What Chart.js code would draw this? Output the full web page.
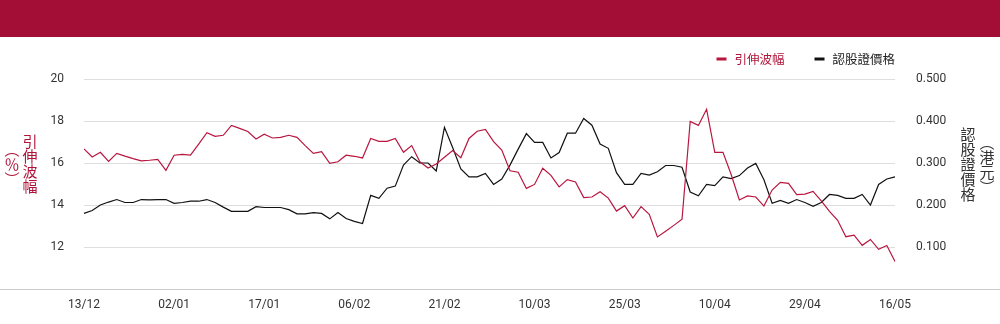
<!DOCTYPE html>
<html>
<head>
<meta charset="utf-8">
<script src="https://cdn.jsdelivr.net/npm/chart.js@4.4.1/dist/chart.umd.min.js"></script>
<style>
  html, body { margin: 0; padding: 0; background: #fff; }
  #wrap { position: relative; width: 1000px; height: 324px; overflow: hidden;
          font-family: 'Noto Sans CJK TC', 'Noto Sans', sans-serif; }
  #band { position: absolute; left: 0; top: 0; width: 1000px; height: 37px; background: #a30e36; }
  #chart { position: absolute; left: 0; top: 0; }
  .vt { position: absolute; writing-mode: vertical-rl; font-size: 15px; line-height: 1;
        white-space: nowrap; transform: translate(-50%, -50%); }
</style>
</head>
<body>
<div id="wrap">
  <div id="band"></div>
  <canvas id="chart" width="1000" height="324"></canvas>
  <div class="vt" style="left:30px;top:164px;color:#b0143a">引伸波幅</div>
  <div class="vt" style="left:12px;top:164px;color:#b0143a">（％）</div>
  <div class="vt" style="left:968px;top:164px;color:#333">認股證價格</div>
  <div class="vt" style="left:987px;top:165px;color:#333">（港元）</div>
</div>
<script>
// Date labels shown along the x axis, one every `tickEvery` observations
const tickLabels = ['13/12', '02/01', '17/01', '06/02', '21/02', '10/03', '25/03', '10/04', '29/04', '16/05'];
const tickEvery = 11;

// Implied volatility (%)
const volatility = [
  16.67, 16.29, 16.51, 16.08, 16.46, 16.33, 16.21, 16.10, 16.13, 16.17,
  15.65, 16.37, 16.41, 16.38, 16.90, 17.44, 17.27, 17.32, 17.79, 17.65,
  17.50, 17.14, 17.37, 17.19, 17.22, 17.32, 17.22, 16.83, 16.46, 16.54,
  15.98, 16.06, 16.37, 16.32, 16.24, 17.17, 17.03, 17.03, 17.17, 16.51,
  16.83, 16.06, 15.76, 15.95, 16.27, 16.59, 16.25, 17.17, 17.51, 17.60,
  17.02, 16.62, 15.63, 15.56, 14.79, 14.98, 15.75, 15.41, 14.86, 15.21,
  15.10, 14.35, 14.38, 14.63, 14.33, 13.71, 13.97, 13.38, 13.92, 13.56,
  12.48, 12.75, 13.03, 13.32, 17.98, 17.79, 18.56, 16.51, 16.51, 15.45,
  14.24, 14.43, 14.38, 13.95, 14.71, 15.08, 15.03, 14.49, 14.52, 14.65,
  14.20, 13.70, 13.27, 12.49, 12.56, 12.08, 12.36, 11.89, 12.07, 11.31
];

// Warrant price (HKD)
const warrantPrice = [
  0.180, 0.187, 0.200, 0.207, 0.213, 0.206, 0.206, 0.213, 0.212, 0.213,
  0.213, 0.204, 0.206, 0.209, 0.209, 0.213, 0.206, 0.195, 0.185, 0.185,
  0.185, 0.196, 0.194, 0.194, 0.194, 0.189, 0.179, 0.179, 0.182, 0.180,
  0.167, 0.182, 0.168, 0.161, 0.156, 0.223, 0.216, 0.240, 0.245, 0.295,
  0.315, 0.300, 0.300, 0.281, 0.385, 0.337, 0.286, 0.267, 0.267, 0.275,
  0.249, 0.262, 0.295, 0.333, 0.370, 0.349, 0.349, 0.312, 0.325, 0.371,
  0.371, 0.406, 0.390, 0.345, 0.335, 0.277, 0.249, 0.249, 0.275, 0.271,
  0.279, 0.294, 0.294, 0.290, 0.231, 0.222, 0.249, 0.246, 0.267, 0.263,
  0.270, 0.288, 0.299, 0.260, 0.204, 0.211, 0.204, 0.213, 0.206, 0.197,
  0.206, 0.225, 0.223, 0.216, 0.216, 0.225, 0.200, 0.249, 0.262, 0.267
];

const observations = volatility.map((_, i) => i);

const RED = '#b8163f';
const INK = '#333';

// Legend drawn top-right, aligned to the plot's right edge
const topLegend = {
  id: 'topLegend',
  afterDraw(chart) {
    const ctx = chart.ctx;
    const sets = chart.data.datasets;
    const y = 59;
    let right = chart.chartArea.right;
    ctx.save();
    ctx.font = "12.5px 'Noto Sans CJK TC', sans-serif";
    ctx.textBaseline = 'middle';
    ctx.textAlign = 'left';
    for (let k = sets.length - 1; k >= 0; k--) {
      const ds = sets[k];
      const w = ctx.measureText(ds.label).width;
      const tx = right - w;
      ctx.fillStyle = ds.legendTextColor;
      ctx.fillText(ds.label, tx, y);
      ctx.fillStyle = ds.borderColor;
      ctx.fillRect(tx - 18, y - 1.5, 10, 3);
      right = tx - 18 - 30;
    }
    ctx.restore();
  }
};

// Full-width baseline under the plot
const baseline = {
  id: 'baseline',
  afterDraw(chart) {
    const ctx = chart.ctx;
    const y = Math.round(chart.scales.yL.getPixelForValue(10)) + 0.5;
    ctx.save();
    ctx.strokeStyle = '#cccccc';
    ctx.lineWidth = 1;
    ctx.beginPath();
    ctx.moveTo(0, y);
    ctx.lineTo(chart.width, y);
    ctx.stroke();
    ctx.restore();
  }
};

Chart.defaults.font.family = "Roboto, 'Noto Sans', sans-serif";
Chart.defaults.font.size = 12;
Chart.defaults.color = INK;

new Chart(document.getElementById('chart'), {
  type: 'line',
  data: {
    labels: observations,
    datasets: [
      {
        label: '引伸波幅',
        data: volatility,
        yAxisID: 'yL',
        borderColor: RED,
        legendTextColor: '#b0143a',
        borderWidth: 1.2,
        pointRadius: 0,
        tension: 0,
        fill: false
      },
      {
        label: '認股證價格',
        data: warrantPrice,
        yAxisID: 'yR',
        borderColor: '#111111',
        legendTextColor: '#222222',
        borderWidth: 1.2,
        pointRadius: 0,
        tension: 0,
        fill: false
      }
    ]
  },
  options: {
    responsive: false,
    animation: false,
    events: [],
    layout: { padding: { top: 79, bottom: 11, left: 0, right: 0 } },
    plugins: { legend: { display: false }, tooltip: { enabled: false } },
    scales: {
      x: {
        type: 'category',
        offset: false,
        grid: { display: false, drawTicks: false },
        border: { display: false },
        ticks: {
          autoSkip: false,
          maxRotation: 0,
          minRotation: 0,
          padding: 9,
          color: INK,
          callback: (v, i) => (i % tickEvery === 0 ? tickLabels[i / tickEvery] : '')
        },
        afterFit: s => { s.height = 24; }
      },
      yL: {
        position: 'left',
        min: 10,
        max: 20,
        ticks: {
          stepSize: 2,
          padding: 20,
          color: INK,
          callback: v => (v === 10 ? '' : v)
        },
        grid: {
          drawTicks: false,
          lineWidth: 1,
          color: c => (c.tick && c.tick.value === 10 ? 'rgba(0,0,0,0)' : '#dedede')
        },
        border: { display: false },
        afterFit: s => { s.width = 84; }
      },
      yR: {
        position: 'right',
        min: 0,
        max: 0.5,
        ticks: {
          stepSize: 0.1,
          padding: 21,
          color: INK,
          callback: v => (Math.abs(v) < 1e-9 ? '' : v.toFixed(3))
        },
        grid: { display: false, drawTicks: false },
        border: { display: false },
        afterFit: s => { s.width = 105; }
      }
    }
  },
  plugins: [topLegend, baseline]
});
</script>
</body>
</html>
